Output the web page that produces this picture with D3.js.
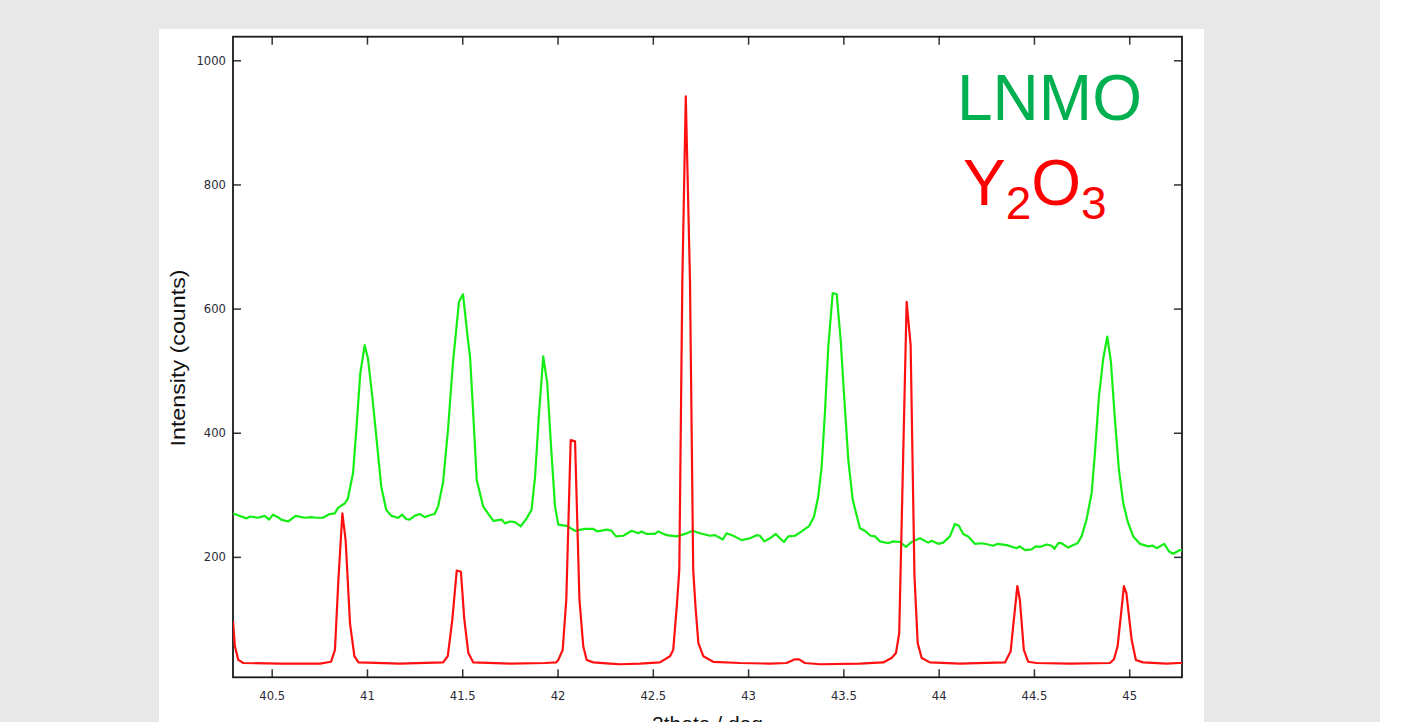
<!DOCTYPE html>
<html><head><meta charset="utf-8">
<script src="https://cdn.jsdelivr.net/npm/d3@7"></script>
<style>html,body{margin:0;padding:0;background:#fff;}svg{display:block;}</style>
</head><body>
<svg id="c" width="1418" height="722"></svg>
<script>
// ---- data ----
const xTicks = [40.5, 41, 41.5, 42, 42.5, 43, 43.5, 44, 44.5, 45];
const yTicks = [200, 400, 600, 800, 1000];
const seriesNames = ["LNMO", "Y2O3"];

const lnmoAngle = [
40.297,40.367,40.388,40.428,40.463,40.486,40.507,40.533,40.550,40.586,
40.626,40.673,40.708,40.734,40.769,40.804,40.831,40.848,40.883,40.900,
40.927,40.944,40.965,40.988,41.005,41.028,41.049,41.075,41.101,41.128,
41.163,41.185,41.206,41.224,41.250,41.277,41.303,41.329,41.355,41.373,
41.399,41.425,41.451,41.483,41.504,41.530,41.541,41.556,41.576,41.610,
41.663,41.707,41.724,41.750,41.777,41.807,41.838,41.864,41.882,41.903,
41.925,41.946,41.966,41.987,42.004,42.048,42.092,42.144,42.188,42.211,
42.258,42.284,42.307,42.345,42.389,42.424,42.441,42.468,42.511,42.529,
42.573,42.625,42.669,42.709,42.747,42.800,42.826,42.867,42.887,42.922,
42.966,43.010,43.045,43.062,43.085,43.115,43.145,43.167,43.188,43.211,
43.246,43.281,43.321,43.346,43.368,43.386,43.403,43.421,43.444,43.465,
43.486,43.503,43.526,43.549,43.587,43.613,43.643,43.666,43.692,43.735,
43.762,43.797,43.828,43.858,43.902,43.945,43.963,43.998,44.024,44.059,
44.085,44.106,44.129,44.155,44.190,44.225,44.260,44.286,44.309,44.357,
44.409,44.426,44.453,44.488,44.509,44.531,44.567,44.593,44.607,44.628,
44.645,44.680,44.706,44.729,44.750,44.776,44.803,44.820,44.841,44.864,
44.885,44.904,44.925,44.946,44.969,44.992,45.021,45.056,45.100,45.123,
45.144,45.184,45.208,45.231,45.266,45.277];
const lnmoCounts = [
270,262,265,263,266,260,268,264,260,257,
266,263,264,263,263,269,270,279,286,294,
335,404,496,541,520,458,394,313,276,266,
263,268,261,260,266,269,264,267,269,281,
319,404,512,611,623,549,522,440,324,281,
258,260,254,257,256,249,262,276,329,431,
523,480,378,281,252,250,242,245,245,241,
244,242,233,234,242,238,241,237,237,241,
235,233,237,242,238,234,235,228,238,234,
227,230,235,234,225,230,237,230,224,233,
234,241,250,265,297,345,431,539,625,623,
549,464,356,292,246,242,234,233,225,222,
225,224,216,224,230,223,226,221,223,233,
253,250,237,233,221,222,220,218,221,219,
214,217,211,212,217,216,220,218,213,222,
222,215,219,222,233,260,303,367,458,520,
555,514,421,340,286,257,233,221,217,218,
214,221,209,205,211,210];

const y2o3Angle = [
40.297,40.307,40.325,40.351,40.544,40.754,40.811,40.832,40.850,40.871,
40.888,40.911,40.934,40.955,41.173,41.400,41.424,41.448,41.471,41.493,
41.511,41.532,41.558,41.750,41.934,41.992,42.004,42.027,42.046,42.069,
42.092,42.115,42.135,42.153,42.188,42.275,42.328,42.433,42.537,42.590,
42.607,42.627,42.639,42.655,42.673,42.695,42.712,42.724,42.739,42.765,
42.817,42.957,43.115,43.202,43.246,43.268,43.298,43.377,43.587,43.709,
43.753,43.776,43.793,43.832,43.853,43.873,43.890,43.911,43.954,44.112,
44.348,44.378,44.391,44.413,44.426,44.447,44.470,44.514,44.689,44.899,
44.920,44.939,44.965,44.972,44.985,45.013,45.035,45.073,45.196,45.262,
45.277];
const y2o3Counts = [
96,56,34,29,28,28,31,50,163,270,
227,93,40,30,28,30,40,99,178,176,
99,45,30,28,29,30,34,50,131,388,
386,131,56,34,30,28,27,28,30,40,
50,125,179,646,942,646,179,120,61,40,
31,29,28,29,35,35,29,27,28,30,
37,45,77,611,541,170,61,37,30,28,
30,48,88,153,131,50,31,29,28,29,
35,56,131,153,142,66,34,30,28,29,
29];

const xDomain = [40.297, 45.277];
const yDomain = [6, 1038];

// ---- drawing ----
const svg = d3.select("#c");
const W = 1418, H = 722;
const plot = {left: 233, right: 1182, top: 36.7, bottom: 677.3};

// page background
svg.append("rect").attr("x",0).attr("y",0).attr("width",1380).attr("height",H).attr("fill","#e8e8e8");
svg.append("rect").attr("x",159).attr("y",29).attr("width",1204-159).attr("height",H-29).attr("fill","#ffffff");

const x = d3.scaleLinear().domain(xDomain).range([plot.left, plot.right]);
const y = d3.scaleLinear().domain(yDomain).range([plot.bottom, plot.top]);

svg.append("clipPath").attr("id","clip").append("rect")
  .attr("x",plot.left).attr("y",plot.top)
  .attr("width",plot.right-plot.left).attr("height",plot.bottom-plot.top);

const tickLen = 8;
const labelFont = "'DejaVu Sans', Verdana, sans-serif";

// bottom axis
const gB = svg.append("g").attr("transform",`translate(0,${plot.bottom})`)
  .call(d3.axisBottom(x).tickValues(xTicks).tickSize(-tickLen).tickPadding(14).tickFormat(d3.format("")));
// top axis
const gT = svg.append("g").attr("transform",`translate(0,${plot.top})`)
  .call(d3.axisTop(x).tickValues(xTicks).tickSize(-tickLen).tickFormat(""));
// left axis
const gL = svg.append("g").attr("transform",`translate(${plot.left},0)`)
  .call(d3.axisLeft(y).tickValues(yTicks).tickSize(-tickLen).tickPadding(7).tickFormat(d3.format("")));
// right axis
const gR = svg.append("g").attr("transform",`translate(${plot.right},0)`)
  .call(d3.axisRight(y).tickValues(yTicks).tickSize(-tickLen).tickFormat(""));

[gB,gT,gL,gR].forEach(g=>{
  g.select(".domain").remove();
  g.selectAll(".tick line").attr("stroke","#333").attr("stroke-width",1.5);
  g.selectAll(".tick text").attr("fill","#2a2a35").attr("font-family",labelFont).attr("font-size",11.6);
});

// frame
svg.append("rect").attr("x",plot.left).attr("y",plot.top)
  .attr("width",plot.right-plot.left).attr("height",plot.bottom-plot.top)
  .attr("fill","none").attr("stroke","#1a1a1a").attr("stroke-width",1.8);

// lines
const line = d3.line().x(d=>x(d[0])).y(d=>y(d[1]));
const lnmo = lnmoAngle.map((a,i)=>[a, lnmoCounts[i]]);
const y2o3 = y2o3Angle.map((a,i)=>[a, y2o3Counts[i]]);
const gLines = svg.append("g").attr("clip-path","url(#clip)");
gLines.append("path").datum(lnmo).attr("d",line)
  .attr("fill","none").attr("stroke","#14ee14").attr("stroke-width",2.2).attr("stroke-linejoin","round");
gLines.append("path").datum(y2o3).attr("d",line)
  .attr("fill","none").attr("stroke","#ff1010").attr("stroke-width",2.2).attr("stroke-linejoin","round");

// axis titles
const titleFont = "'Liberation Sans', Arial, sans-serif";
svg.append("text").attr("transform","translate(185,358) rotate(-90)")
  .attr("text-anchor","middle").attr("font-family",titleFont).attr("font-size",21)
  .attr("fill","#111").attr("textLength",177).attr("lengthAdjust","spacingAndGlyphs")
  .text("Intensity (counts)");
svg.append("text").attr("x",(plot.left+plot.right)/2).attr("y",731)
  .attr("text-anchor","middle").attr("font-family",titleFont).attr("font-size",21)
  .attr("fill","#111").text("2theta / deg");

// legend labels
svg.append("text").attr("x",957).attr("y",119.5)
  .attr("font-family",titleFont).attr("font-size",64).attr("fill","#00b050")
  .text(seriesNames[0]);
const t2 = svg.append("text").attr("x",963).attr("y",205)
  .attr("font-family",titleFont).attr("font-size",64).attr("fill","#ff0000");
t2.append("tspan").text("Y");
t2.append("tspan").attr("font-size",46).attr("dy",14).text("2");
t2.append("tspan").attr("dy",-14).text("O");
t2.append("tspan").attr("font-size",46).attr("dy",14).text("3");
</script>
</body></html>
